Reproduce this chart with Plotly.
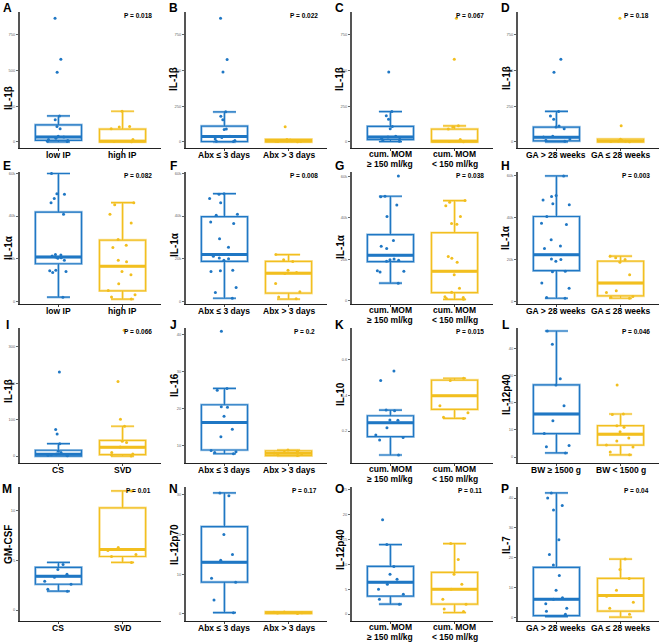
import plotly.graph_objects as go

BLUE = "#1f77c4"
BLUE_LIGHT = "rgba(31,119,196,0.40)"
YELLOW = "#f2bf1f"
YELLOW_LIGHT = "rgba(242,191,31,0.40)"

# ---------------- data (box stats = [q1, median, q3, lower whisker, upper whisker]) ----
A_labels = ["low IP", "high IP"]
A_blue = [865, 578, 486, 181, 154, 108, 92, 39, 34, 25, 16, 9, 5, 2]
A_blue_box = [11, 34, 119, 0, 181]
A_yellow = [214, 108, 103, 92, 16, 3, 1]
A_yellow_box = [0, 5, 89, 0, 214]

B_labels = ["Abx ≤ 3 days", "Abx > 3 days"]
B_blue = [865, 576, 488, 211, 179, 154, 90, 87, 40, 30, 20, 10, 5, 2]
B_blue_box = [2, 37, 110, 0, 209]
B_yellow = [105, 16, 13, 10, 8, 6, 5, 3, 2, 1]
B_yellow_box = [0, 6, 17, 0, 17]

C_labels = ["cum. MOM<br>≥ 150 ml/kg", "cum. MOM<br>< 150 ml/kg"]
C_blue = [488, 212, 183, 158, 108, 92, 40, 34, 25, 18, 10, 5]
C_blue_box = [16, 34, 108, 2, 212]
C_yellow = [865, 578, 112, 103, 90, 16, 3, 1]
C_yellow_box = [0, 5, 89, 0, 112]

D_labels = ["GA > 28 weeks", "GA ≤ 28 weeks"]
D_blue = [578, 486, 213, 181, 158, 110, 103, 92, 40, 34, 20, 12, 5]
D_blue_box = [7, 32, 103, 0, 213]
D_yellow = [18, 865, 112, 12, 9, 6, 4, 2, 1]
D_yellow_box = [0, 6, 20, 0, 20]

E_labels = ["low IP", "high IP"]
E_blue = [60000, 50500, 50200, 48200, 46300, 40800, 21900, 21700, 21300, 20800,
          20400, 20200, 19200, 14500, 14300, 14000, 13500, 1900]
E_blue_box = [17600, 20800, 41900, 1900, 60000]
E_yellow = [46300, 45300, 40800, 36800, 29000, 26300, 25200, 19200, 18500, 14000,
            12400, 8200, 5000, 3000, 2000, 1000]
E_yellow_box = [4900, 16400, 28700, 950, 46300]

F_labels = ["Abx ≤ 3 days", "Abx > 3 days"]
F_blue = [50500, 50200, 48200, 46300, 40800, 40400, 37200, 36500, 29400, 25400,
          21100, 20300, 20000, 19200, 14000, 14300, 14500, 6500, 4100, 1400]
F_blue_box = [18700, 21900, 39700, 1400, 50500]
F_yellow = [21900, 19500, 18700, 14500, 13500, 13000, 8300, 4400, 2000, 1200]
F_yellow_box = [3800, 13200, 18700, 950, 21900]

G_labels = ["cum. MOM<br>≥ 150 ml/kg", "cum. MOM<br>< 150 ml/kg"]
G_blue = [60150, 50400, 50200, 46200, 40650, 29100, 26300, 25200, 20160, 19800,
          19500, 19000, 14150, 13800, 14500, 8450]
G_blue_box = [18860, 21950, 31870, 8450, 50400]
G_yellow = [48300, 47500, 45850, 40650, 37230, 36900, 21300, 20490, 18540, 12500,
            6000, 4060, 1950, 1500, 1000, 650]
G_yellow_box = [3900, 14150, 32800, 650, 48300]

H_labels = ["GA > 28 weeks", "GA ≤ 28 weeks"]
H_blue = [60000, 50700, 50200, 48450, 46700, 46200, 40600, 37400, 36800, 29500,
          26450, 25300, 20300, 20000, 19200, 14350, 14200, 8700, 6300, 1770, 1450]
H_blue_box = [14680, 22250, 40600, 1450, 60000]
H_yellow = [21600, 20800, 20000, 18700, 12700, 5000, 4200, 2250, 1900, 1450]
H_yellow_box = [2580, 8700, 19200, 1450, 21600]

I_labels = ["CS", "SVD"]
I_blue = [231, 73, 61, 34, 13, 10, 6, 4, 3, 2, 1]
I_blue_box = [0, 5, 16, 0, 34]
I_yellow = [346, 205, 101, 82, 41, 37, 25, 10, 6, 3, 0]
I_yellow_box = [4, 24, 43, 0, 82]

J_labels = ["Abx ≤ 3 days", "Abx > 3 days"]
J_blue = [40.9, 25.5, 25.0, 20.6, 20.4, 18.0, 14.5, 12.45, 8.8, 8.4, 8.2, 7.9]
J_blue_box = [8.9, 16.3, 21.1, 7.9, 25.5]
J_yellow = [8.9, 8.6, 8.3, 8.1, 7.9, 7.6, 7.4]
J_yellow_box = [7.4, 8.0, 8.7, 7.3, 8.9]

K_labels = ["cum. MOM<br>≥ 150 ml/kg", "cum. MOM<br>< 150 ml/kg"]
K_blue = [0.538, 0.484, 0.318, 0.314, 0.262, 0.26, 0.219, 0.177, 0.164, 0.149, 0.065]
K_blue_box = [0.168, 0.247, 0.286, 0.065, 0.318]
K_yellow = [0.497, 0.484, 0.343, 0.303, 0.277, 0.271]
K_yellow_box = [0.322, 0.399, 0.487, 0.271, 0.497]

L_labels = ["BW ≥ 1500 g", "BW < 1500 g"]
L_blue = [46.3, 41.4, 28.8, 26.5, 18.8, 13.3, 8.6, 4.2, 3.8, 1.5]
L_blue_box = [8.6, 15.8, 26.5, 1.5, 46.3]
L_yellow = [26.5, 15.8, 15.6, 11.5, 10.9, 9.3, 7.0, 5.9, 4.4, 3.7, 1.85, 0.8]
L_yellow_box = [4.4, 8.4, 11.5, 0.8, 15.8]

M_labels = ["CS", "SVD"]
M_blue = [4.6, 4.1, 3.6, 3.3, 2.9, 2.6, 2.1, 1.9]
M_blue_box = [2.6, 3.4, 4.3, 1.9, 4.8]
M_yellow = [12.0, 6.3, 6.0, 5.6, 5.4, 4.8]
M_yellow_box = [5.4, 6.1, 10.3, 4.8, 12.0]

N_labels = ["Abx ≤ 3 days", "Abx > 3 days"]
N_blue = [30.5, 29.8, 20, 15, 13.5, 9.0, 8.0, 3.5, 0.3]
N_blue_box = [8.0, 13, 22, 0.3, 30.5]
N_yellow = [0.5, 0.4, 0.3, 0.2, 0.1]
N_yellow_box = [0.1, 0.25, 0.5, 0.1, 0.5]

O_labels = ["cum. MOM<br>≥ 150 ml/kg", "cum. MOM<br>< 150 ml/kg"]
O_blue = [19, 14, 9.6, 8, 7, 6, 5, 4, 3, 2]
O_blue_box = [3.6, 6.4, 9.6, 2, 14]
O_yellow = [14.2, 11, 8, 6, 5, 3, 2, 1, 0.5]
O_yellow_box = [2, 5, 8.4, 0.3, 14.2]

P_labels = ["GA > 28 weeks", "GA ≤ 28 weeks"]
P_blue = [41.7, 40, 37.5, 36, 26, 21, 17.5, 14, 9, 6.5, 6, 4.5, 3, 2, 1]
P_blue_box = [0.5, 6, 16.7, 0.2, 41.7]
P_yellow = [19.5, 16, 13, 9, 7, 5, 3, 1]
P_yellow_box = [2, 7.3, 13, 0, 19.5]

ytitles = ["IL-1β", "IL-1β", "IL-1β", "IL-1β",
           "IL-1α", "IL-1α", "IL-1α", "IL-1α",
           "IL-1β", "IL-16", "IL-10", "IL-12p40",
           "GM-CSF", "IL-12p70", "IL-12p40", "IL-7"]
pvalues = ["P = 0.018", "P = 0.022", "P = 0.067", "P = 0.18",
           "P = 0.082", "P = 0.008", "P = 0.038", "P = 0.003",
           "P = 0.066", "P = 0.2", "P = 0.015", "P = 0.046",
           "P = 0.01", "P = 0.17", "P = 0.11", "P = 0.04"]
letters = list("ABCDEFGHIJKLMNOP")

ranges = [[-43, 908]] * 4 + [[-1300, 60700], [-1300, 60700], [-1600, 62100], [-1300, 61900]] + \
         [[-19, 352], [5.4, 41.8], [0.02, 0.78], [-2.2, 47.4]] + \
         [[-1.1, 12.4], [-1.8, 32], [-1.4, 25.6], [-1.3, 43.7]]
tickvals = [[0, 250, 500, 750]] * 4 + [[0, 20000, 40000, 60000]] * 4 + \
           [[0, 100, 200, 300], [10, 20, 30, 40], [0.2, 0.4, 0.6], [0, 10, 20, 30, 40]] + \
           [[0, 5, 10], [0, 10, 20, 30], [0, 5, 10, 15, 20, 25], [0, 10, 20, 30, 40]]

panel_data = [
    (A_labels, A_blue, A_blue_box, A_yellow, A_yellow_box),
    (B_labels, B_blue, B_blue_box, B_yellow, B_yellow_box),
    (C_labels, C_blue, C_blue_box, C_yellow, C_yellow_box),
    (D_labels, D_blue, D_blue_box, D_yellow, D_yellow_box),
    (E_labels, E_blue, E_blue_box, E_yellow, E_yellow_box),
    (F_labels, F_blue, F_blue_box, F_yellow, F_yellow_box),
    (G_labels, G_blue, G_blue_box, G_yellow, G_yellow_box),
    (H_labels, H_blue, H_blue_box, H_yellow, H_yellow_box),
    (I_labels, I_blue, I_blue_box, I_yellow, I_yellow_box),
    (J_labels, J_blue, J_blue_box, J_yellow, J_yellow_box),
    (K_labels, K_blue, K_blue_box, K_yellow, K_yellow_box),
    (L_labels, L_blue, L_blue_box, L_yellow, L_yellow_box),
    (M_labels, M_blue, M_blue_box, M_yellow, M_yellow_box),
    (N_labels, N_blue, N_blue_box, N_yellow, N_yellow_box),
    (O_labels, O_blue, O_blue_box, O_yellow, O_yellow_box),
    (P_labels, P_blue, P_blue_box, P_yellow, P_yellow_box),
]

# ---------------- layout geometry (pixels) ----------------
W, H = 661, 642
col_left = [20, 186, 352, 518]
plot_w = 141
row_top = [12, 172, 328, 487]
row_bot = [148, 304, 463, 621]
letter_y = [8, 166, 325, 489]
ytitle_y = [[98, 79, 79, 78], [248, 245, 247, 238], [391, 385, 394, 395], [545, 545, 550, 545]]

BOX_W = 0.72
FONT = "Liberation Sans, Arial, sans-serif"

fig = go.Figure()
layout = {}
annotations = []

for i in range(16):
    r, c = divmod(i, 4)
    n = i + 1
    xs = "x" if n == 1 else f"x{n}"
    ys = "y" if n == 1 else f"y{n}"
    labels, bpts, bbox, ypts, ybox = panel_data[i]
    for pos, pts, st, col, light in [(0, bpts, bbox, BLUE, BLUE_LIGHT),
                                      (1, ypts, ybox, YELLOW, YELLOW_LIGHT)]:
        for lw, lc in [(2.6, light), (1.2, col)]:
            fig.add_trace(go.Box(
                x=[pos], q1=[st[0]], median=[st[1]], q3=[st[2]],
                lowerfence=[st[3]], upperfence=[st[4]],
                width=BOX_W, line=dict(color=lc, width=lw),
                fillcolor="rgba(255,255,255,0)", boxpoints=False,
                xaxis=xs, yaxis=ys, showlegend=False, hoverinfo="skip"))
        fig.add_trace(go.Scatter(
            x=[pos - BOX_W / 2, pos + BOX_W / 2], y=[st[1], st[1]],
            mode="lines", line=dict(color=col, width=3),
            xaxis=xs, yaxis=ys, showlegend=False, hoverinfo="skip"))
        fig.add_trace(go.Box(
            x=[pos] * len(pts), y=pts, width=BOX_W,
            boxpoints="all", jitter=0.75, pointpos=0,
            marker=dict(color=col, size=3),
            line=dict(color="rgba(0,0,0,0)", width=0),
            fillcolor="rgba(0,0,0,0)",
            xaxis=xs, yaxis=ys, showlegend=False, hoveron="points"))

    x0 = col_left[c] / W
    x1 = (col_left[c] + plot_w) / W
    y0 = 1 - row_bot[r] / H
    y1 = 1 - row_top[r] / H
    xk = "xaxis" if n == 1 else f"xaxis{n}"
    yk = "yaxis" if n == 1 else f"yaxis{n}"
    layout[xk] = dict(domain=[x0, x1], anchor=ys, range=[-0.6, 1.6],
                      tickvals=[0, 1], showticklabels=False,
                      showline=True, linecolor="#222", linewidth=1.3,
                      ticks="outside", ticklen=2, tickcolor="#444", tickwidth=0.8,
                      showgrid=False, zeroline=False, fixedrange=True)
    layout[yk] = dict(domain=[y0, y1], anchor=xs, range=ranges[i],
                      tickvals=tickvals[i],
                      tickfont=dict(size=4, color="#666", family=FONT),
                      showline=True, linecolor="#555", linewidth=2,
                      ticks="outside", ticklen=2, tickcolor="#666", tickwidth=0.6,
                      showgrid=False, zeroline=False, fixedrange=True)

    # category labels under the x axis (one annotation per text line)
    for pos, lab in enumerate(labels):
        parts = lab.split("<br>")
        for k, line in enumerate(parts):
            offset = 7 if len(parts) == 1 else 6 + 9.5 * k
            annotations.append(dict(text=f"<b>{line}</b>", x=pos, xref=xs,
                                    y=1 - (row_bot[r] + offset) / H, yref="paper",
                                    showarrow=False, xanchor="center", yanchor="middle",
                                    borderpad=0,
                                    font=dict(size=8.5, color="black", family=FONT)))
    annotations.append(dict(text=f"<b>{letters[i]}</b>", x=(col_left[c] - 13) / W,
                            y=1 - letter_y[r] / H, xref="paper", yref="paper",
                            showarrow=False, xanchor="center", yanchor="middle",
                            font=dict(size=12, color="black", family=FONT)))
    annotations.append(dict(text=f"<b>{ytitles[i]}</b>", x=(col_left[c] - 12) / W,
                            y=1 - ytitle_y[r][c] / H, xref="paper", yref="paper",
                            showarrow=False, xanchor="center", yanchor="middle",
                            textangle=-90,
                            font=dict(size=10, color="black", family=FONT)))
    annotations.append(dict(text=f"<b>{pvalues[i]}</b>", x=0.84, y=0.975,
                            xref=f"{xs} domain", yref=f"{ys} domain",
                            showarrow=False, xanchor="center", yanchor="middle",
                            font=dict(size=6.5, color="black", family=FONT)))

fig.update_layout(**layout)
fig.update_layout(width=W, height=H, margin=dict(l=0, r=0, t=0, b=0),
                  paper_bgcolor="white", plot_bgcolor="white",
                  boxmode="overlay", showlegend=False,
                  annotations=annotations, font=dict(family=FONT))

fig.write_html("out.html", config={"displayModeBar": False},
               post_script="document.body.style.margin='0';document.body.style.padding='0';")
